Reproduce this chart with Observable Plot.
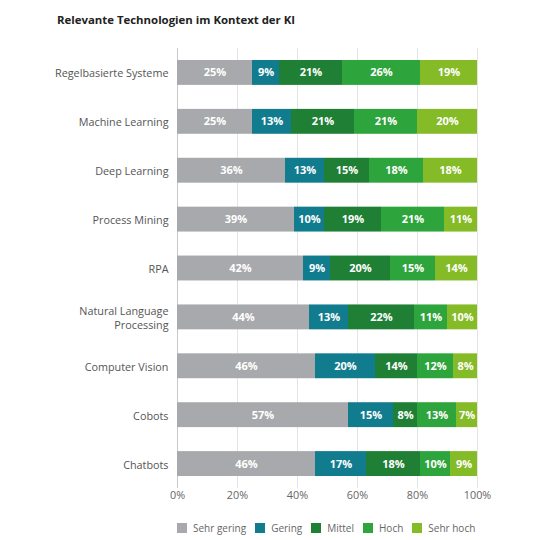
<!DOCTYPE html>
<html>
<head>
<meta charset="utf-8">
<script src="https://cdn.jsdelivr.net/npm/d3@7"></script>
<script src="https://cdn.jsdelivr.net/npm/@observablehq/plot@0.6"></script>
<style>
  body { margin: 0; background: #fff; font-family: "Open Sans", sans-serif; }
  #title { height: 30px; padding-left: 57px; font-weight: 700; font-size: 11.4px; color: #222; line-height: 40px; box-sizing: border-box; }
  #chart svg { display: block; }
  #legend { display: flex; margin-left: 177px; margin-top: 16px; font-size: 10px; color: #666; }
  #legend span { display: inline-flex; align-items: center; margin-right: 9px; }
  #legend i { display: inline-block; width: 10px; height: 10px; margin-right: 6px; }
</style>
</head>
<body>
<div id="title">Relevante Technologien im Kontext der KI</div>
<div id="chart"></div>
<div id="legend"></div>
<script>
// Kategorien (von oben nach unten)
const techs = ["Regelbasierte Systeme", "Machine Learning", "Deep Learning", "Process Mining", "RPA",
  "Natural Language Processing", "Computer Vision", "Cobots", "Chatbots"]
const stufen = ["Sehr gering", "Gering", "Mittel", "Hoch", "Sehr hoch"]
const farben = ["#a8a9ac", "#127c8f", "#1f7f35", "#2ea43c", "#84bb26"]

// Werte in % je Stufe, in der Reihenfolge von techs
const sehrGering = [25, 25, 36, 39, 42, 44, 46, 57, 46]
const gering     = [ 9, 13, 13, 10,  9, 13, 20, 15, 17]
const mittel     = [21, 21, 15, 19, 20, 22, 14,  8, 18]
const hoch       = [26, 21, 18, 21, 15, 11, 12, 13, 10]
const sehrHoch   = [19, 20, 18, 11, 14, 10,  8,  7,  9]
const xTicks = [0, 20, 40, 60, 80, 100]

const reihen = [sehrGering, gering, mittel, hoch, sehrHoch]
const data = []
reihen.forEach((werte, i) => {
  werte.forEach((v, j) => data.push({ tech: techs[j], stufe: stufen[i], wert: v }))
})

let chart = Plot.plot({
  width: 540,
  height: 475,
  marginLeft: 177,
  marginRight: 63,
  marginTop: 18,
  marginBottom: 17,
  style: { fontFamily: "Open Sans, sans-serif", fontSize: "10.8px", color: "#555" },
  x: { domain: [0, 100], label: null },
  y: { domain: techs, padding: 0, round: false, label: null },
  color: { domain: stufen, range: farben },
  marks: [
    Plot.gridX(xTicks.slice(1), { stroke: "#e4e4e4", strokeOpacity: 1 }),
    Plot.ruleX([0], { stroke: "#c8c8c8" }),
    Plot.barX(data, Plot.stackX({ order: stufen, x: "wert", y: "tech", z: "stufe", fill: "stufe", insetTop: 12, insetBottom: 12 })),
    Plot.text(data, Plot.stackX({ order: stufen, x: "wert", y: "tech", z: "stufe", text: d => d.wert + "%",
      fill: "white", fontWeight: "bold", fontSize: 11 })),
    Plot.axisX({ ticks: xTicks, tickFormat: d => d + "%", tickSize: 0, tickPadding: 3, fill: "#666", label: null }),
    Plot.axisY({ tickSize: 0, tickPadding: 9, lineHeight: 1.3, fill: "#555", label: null,
      tickFormat: d => d === "Natural Language Processing" ? "Natural Language\nProcessing" : d })
  ]
})
d3.select("#chart").append(() => chart)

// Legende
const leg = d3.select("#legend")
stufen.forEach((s, i) => {
  const item = leg.append("span")
  item.append("i").style("background", farben[i])
  item.append("text").text(s)
})
</script>
</body>
</html>
